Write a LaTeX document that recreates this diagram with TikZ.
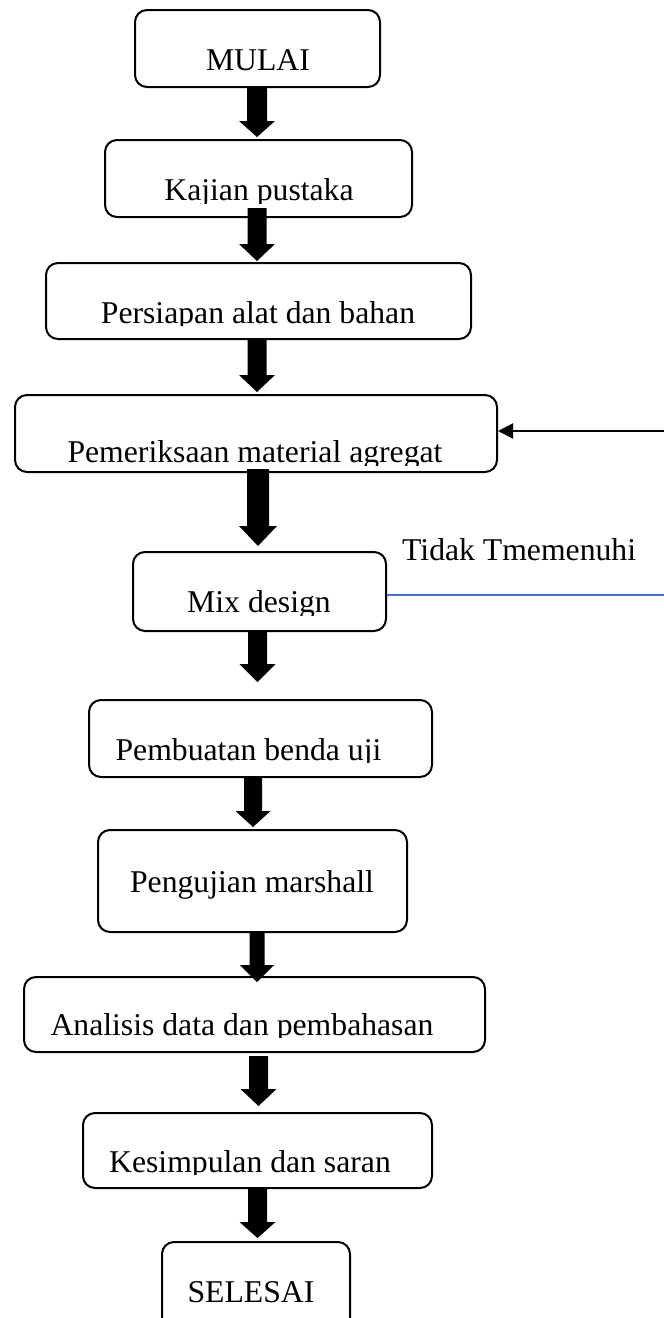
\documentclass[tikz,border=0pt]{standalone}
\usepackage{fontspec}
\setmainfont{Liberation Serif}
\usetikzlibrary{calc,arrows.meta}
\tikzset{
  box/.style={draw, line width=2pt, rounded corners=12pt, inner sep=0pt},
  txt/.style={font=\fontsize{31.7}{38}\selectfont, inner sep=0pt, anchor=base},
  feedback/.style={draw, line width=2pt, -{Triangle[length=15pt,width=15pt]}},
  blueline/.style={draw=blueln, line width=1.2pt}
}
\definecolor{blueln}{RGB}{68,114,196}
% block arrow: #1 start, #2 tip, #3 shaft half width, #4 head half width, #5 head length
\newcommand\blockarr[5]{%
  \fill let \p1=(#1), \p2=(#2) in
    (\x1-#3pt,\y1) -- (\x1-#3pt,\y2+#5pt) -- (\x1-#4pt,\y2+#5pt) -- (\x1,\y2)
    -- (\x1+#4pt,\y2+#5pt) -- (\x1+#3pt,\y2+#5pt) -- (\x1+#3pt,\y1) -- cycle;}
% clipped text: #1 name, #2 x, #3 baseline, #4 clip y, #5 text
\newcommand\cliptxt[5]{%
  \begin{scope}
    \clip (0,#4-90) rectangle (664,#4);
    \node[txt] (#1) at (#2,#3) {#5};
  \end{scope}}
\begin{document}
\begin{tikzpicture}[x=1pt,y=-1pt]
\useasboundingbox (0,0) rectangle (664,1318);
\clip (0,0) rectangle (664,1318);

% boxes
\node[box, minimum width=245pt, minimum height=77pt] (n1) at (257.5,48.5) {};
\node[box, minimum width=307pt, minimum height=77pt] (n2) at (258.5,178.5) {};
\node[box, minimum width=425pt, minimum height=76pt] (n3) at (258.5,301) {};
\node[box, minimum width=482pt, minimum height=77pt] (n4) at (256,433.5) {};
\node[box, minimum width=253pt, minimum height=79pt] (n5) at (259.5,591.5) {};
\node[box, minimum width=343pt, minimum height=77pt] (n6) at (260.5,738.5) {};
\node[box, minimum width=309pt, minimum height=102pt] (n7) at (252.5,881) {};
\node[box, minimum width=461pt, minimum height=75pt] (n8) at (254.5,1014.5) {};
\node[box, minimum width=349pt, minimum height=75pt] (n9) at (257.5,1150.5) {};
\node[box, minimum width=188pt, minimum height=90pt] (n10) at (256,1287) {};

% texts
\node[txt] (t1) at (258,70) {MULAI};
\cliptxt{t2}{259}{200}{203}{Kajian pustaka}
\cliptxt{t3}{258}{323}{325}{Persiapan alat dan bahan}
\cliptxt{t4}{255}{462}{465}{Pemeriksaan material agregat}
\cliptxt{t5}{259}{612}{615}{Mix design}
\cliptxt{t6}{248.5}{760}{762}{Pembuatan benda uji}
\node[txt] (t7) at (252,892) {Pengujian marshall};
\cliptxt{t8}{242}{1035}{1037}{Analisis data dan pembahasan}
\cliptxt{t9}{250}{1172}{1174}{Kesimpulan dan saran}
\node[txt] (t10) at (251,1302) {SELESAI};
\node[txt, anchor=base west] (lbl) at (402,560) {Tidak Tmemenuhi};

% block arrows
\blockarr{$(n1.south)+(-0.5,0)$}{$(n2.north)+(0,-2)$}{10}{18}{16}
\blockarr{$(n2.south)+(-1.5,-10)$}{$(n3.north)+(0,-1)$}{9.5}{18}{17}
\blockarr{$(n3.south)+(-1.5,0)$}{$(n4.north)+(0,-2)$}{9.5}{18}{17}
\blockarr{$(n4.south)+(2,-4)$}{$(n5.north)+(0,-5)$}{11}{19}{20}
\blockarr{$(n5.south)+(-2,0)$}{$(n6.north)+(0,-17)$}{9.5}{18}{18}
\blockarr{$(n6.south)+(-7.5,0)$}{$(n7.north)+(0,-2)$}{9}{17.5}{16}
\blockarr{$(n7.south)+(4.5,0)$}{$(n8.north)+(0,6)$}{7.5}{17}{17}
\blockarr{$(n8.south)+(4,3)$}{$(n9.north)+(0,-6)$}{9.5}{18}{17}
\blockarr{$(n9.south)+(0,0)$}{$(n10.north)+(0,-3)$}{9.5}{18}{16}

% feedback line and blue line
\coordinate (fb) at (664,431);
\draw[feedback] (fb) -- (fb -| n4.east);
\coordinate (bl) at (664,595);
\draw[blueline] (n5.east |- bl) -- (bl);
\end{tikzpicture}
\end{document}
